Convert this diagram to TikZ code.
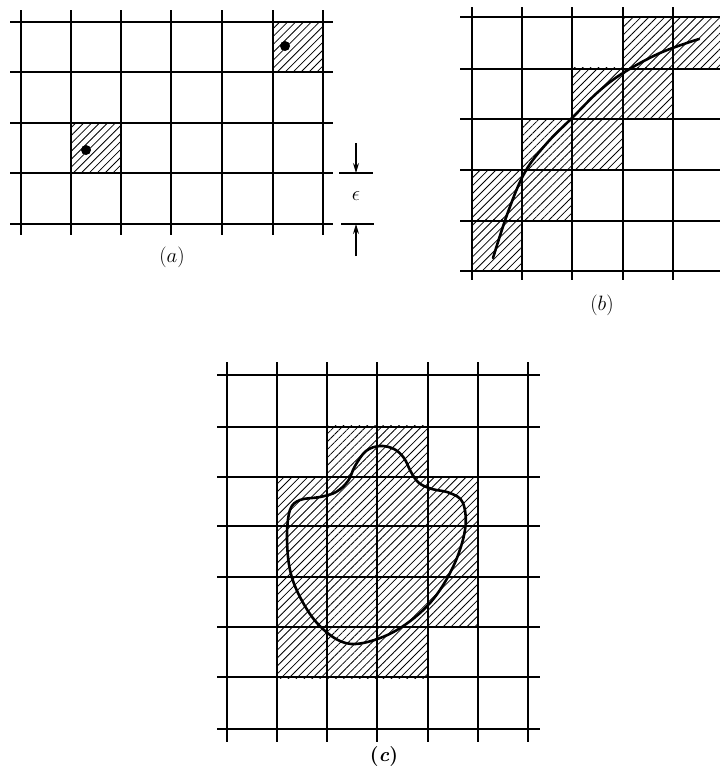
\documentclass[tikz,border=0pt]{standalone}
\usepackage{tikz}
\usepackage{amsmath}
\usetikzlibrary{
  arrows.meta,
  patterns.meta,
  positioning,
  calc
}
\tikzset{
  gridline/.style={line width=1.2pt, black},
  hatchcell/.style={pattern={Lines[angle=45, distance=5.6pt, line width=0.8pt]}},
  curveline/.style={line width=2.6pt, black, line cap=round},
  cellmark/.style={circle, fill=black, inner sep=0pt, minimum size=10pt},
  caplabel/.style={font=\fontsize{21}{24}\selectfont, inner sep=1pt},
  boldlabel/.style={font=\fontsize{20}{24}\selectfont\bfseries, inner sep=1pt},
  dimline/.style={line width=1.2pt, black},
  dimarrow/.style={-{Stealth[length=10pt, width=6pt]}, line width=1.1pt, black}
}

\begin{document}
\begin{tikzpicture}[x=1pt, y=-1pt]
  \useasboundingbox (0,0) rectangle (720,769);

  % (a) two isolated points
  \fill[hatchcell] (273,22) rectangle (323,72);
  \fill[hatchcell] (71,123) rectangle (121,173);
  \foreach \x in {21,71,121,171,222,273,323}
    \draw[gridline] (\x,10) -- (\x,235);
  \foreach \y in {22,72,123,173,224}
    \draw[gridline] (10,\y) -- (333,\y);
  \node[cellmark] (pta) at (285,46) {};
  \node[cellmark] (ptb) at (86,150) {};
  \node[caplabel] (capa) at (172,257) {$(a)$};

  % epsilon spacing
  \coordinate (epsup) at (356,173);
  \coordinate (epsdn) at (356,224);
  \coordinate (epsupfrom) at (356,143);
  \coordinate (epsdnfrom) at (356,256);
  \draw[dimline] (339,173) -- (373,173);
  \draw[dimline] (341,224) -- (374,224);
  \draw[dimarrow] (epsupfrom) -- (epsup);
  \draw[dimarrow] (epsdnfrom) -- (epsdn);
  \node[caplabel] (eps) at (356,196) {$\epsilon$};

  % (b) a curve
  \foreach \c/\r in {3/0,4/0,2/1,3/1,1/2,2/2,0/3,1/3,0/4}
    \fill[hatchcell] ({472+50.3*\c},{17+50.7*\r}) rectangle ++(50.3,50.7);
  \foreach \x in {472,522,572,623,673,721}
    \draw[gridline] (\x,7) -- (\x,280);
  \foreach \y in {17,69,119,170,221,271}
    \draw[gridline] (460,\y) -- (722,\y);
  \draw[curveline] plot[smooth, tension=0.6] coordinates
    {(493,258) (508,212) (525,172) (547,143) (573,117) (598,92) (623,73) (660,53) (699,39)};
  \node[caplabel] (capb) at (602,305) {$(b)$};

  % (c) a region
  \foreach \c/\r in {2/1,3/1,1/2,2/2,3/2,4/2,1/3,2/3,3/3,4/3,1/4,2/4,3/4,4/4,1/5,2/5,3/5}
    \fill[hatchcell] ({227+50.2*\c},{375+50.5*\r}) rectangle ++(50.2,50.5);
  \foreach \x in {227,277,327,377,428,478,528}
    \draw[gridline] (\x,362) -- (\x,742);
  \foreach \y in {375,427,477,526,577,627,677,729}
    \draw[gridline] (217,\y) -- (540,\y);
  \draw[curveline] plot[smooth cycle, tension=0.6] coordinates
    {(380,446) (394,449) (404,458) (411,472) (419,483) (432,489) (450,493) (463,503)
     (465,530) (453,567) (430,603) (397,630) (363,643) (340,641) (317,623)
     (300,597) (290,570) (287,537) (290,510) (300,500) (320,497) (336,492)
     (348,481) (355,466) (366,451)};
  \node[boldlabel] (capc) at (384,756) {(\textit{c})};
\end{tikzpicture}
\end{document}
